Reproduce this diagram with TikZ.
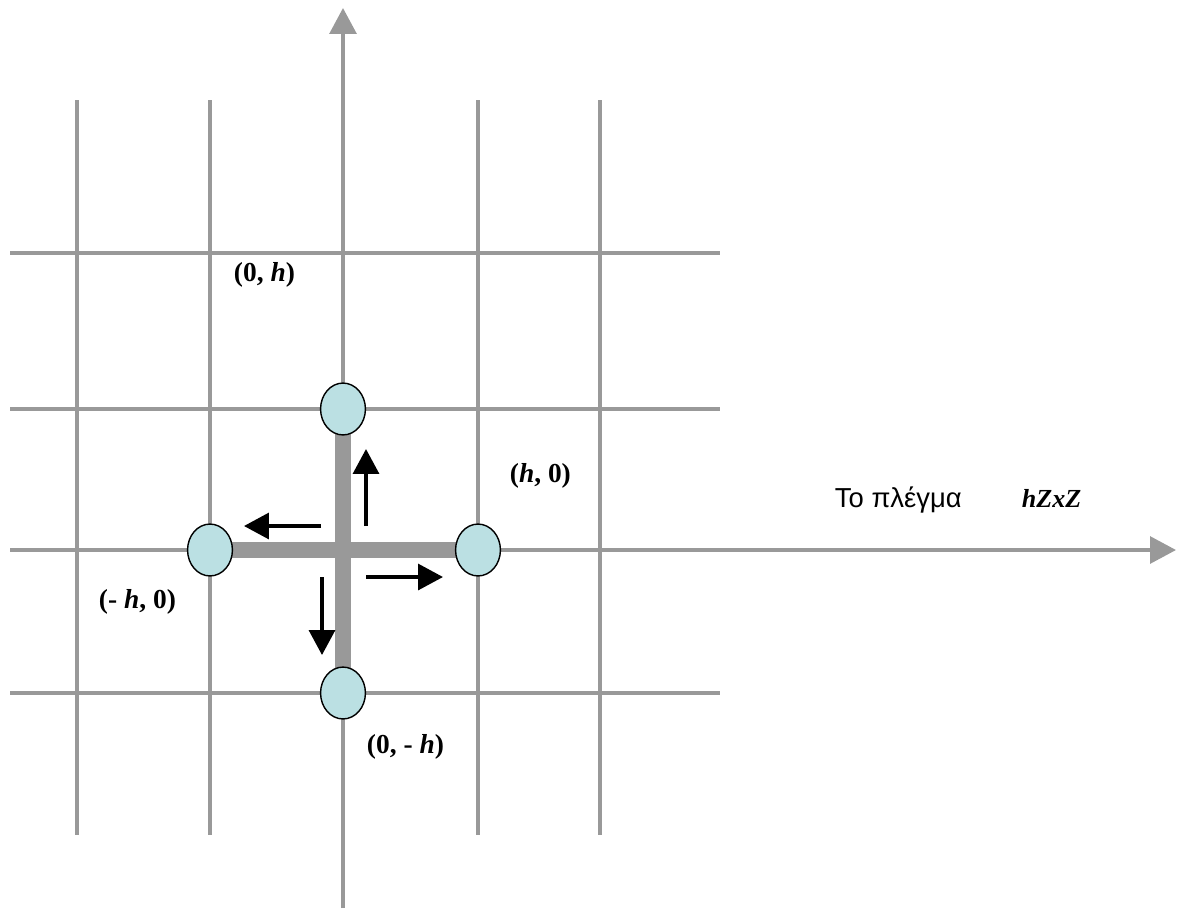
\documentclass[tikz,border=0pt]{standalone}
\usepackage{fontspec}
\setmainfont{Liberation Serif}
\newfontfamily\greekfont{Liberation Sans}
\usetikzlibrary{arrows.meta,shapes.geometric,backgrounds}
\definecolor{gridgray}{RGB}{153,153,153}
\definecolor{sitecyan}{RGB}{187,224,227}

\begin{document}
\begin{tikzpicture}[x=0.025cm,y=-0.025cm,
  grid line/.style={draw=gridgray,line width=2.6pt},
  axis line/.style={grid line,-{Triangle[length=18.4pt,width=19pt]}},
  bar line/.style={draw=gridgray,line width=11.3pt},
  move arrow/.style={draw=black,line width=2.4pt,-{Triangle[length=17.7pt,width=18.4pt]}},
  main node/.style={ellipse,draw,line width=1pt,fill=sitecyan,minimum width=31.9pt,minimum height=36.9pt,inner sep=0pt},
  coord label/.style={anchor=base west,font=\fontsize{19.5}{22}\selectfont\bfseries}]
  \useasboundingbox (0,0) rectangle (1179,910);

  % grid
  \foreach \x in {77,210,478,600} \draw[grid line] (\x,100) -- (\x,835);
  \foreach \y in {253,409,693} \draw[grid line] (10,\y) -- (720,\y);

  % axes
  \coordinate (o) at (343,550);
  \coordinate (xs) at (10,550);
  \coordinate (xe) at (1176,550);
  \coordinate (ys) at (343,908);
  \coordinate (ye) at (343,8);
  \draw[axis line] (xs) -- (xe);
  \draw[axis line] (ys) -- (ye);

  \node[main node] (1) at (343,409) {};
  \node[main node] (2) at (210,550) {};
  \node[main node] (3) at (478,550) {};
  \node[main node] (4) at (343,693) {};

  \begin{scope}[on background layer]
    \draw[bar line] (1.center) -- (4.center);
    \draw[bar line] (2.center) -- (3.center);
  \end{scope}

  % moves
  \draw[move arrow] ([shift={(23,-24)}]o) -- ++(0,-77);
  \draw[move arrow] ([shift={(-22,-24)}]o) -- ++(-77,0);
  \draw[move arrow] ([shift={(23,27)}]o) -- ++(77,0);
  \draw[move arrow] ([shift={(-21,27)}]o) -- ++(0,78);

  \node[coord label] (5) at (229,281) {(0, \textit{h})};
  \node[coord label] (6) at (505,482) {(\textit{h}, 0)};
  \node[coord label] (7) at (94,608) {(- \textit{h}, 0)};
  \node[coord label] (8) at (362,753) {(0, - \textit{h})};
  \node[anchor=base west,font=\greekfont\fontsize{19.5}{22}\selectfont] (9) at (830,507) {Το πλέγμα};
  \node[anchor=base west,font=\fontsize{18.5}{22}\selectfont\bfseries\itshape] (10) at (1017,507) {hZxZ};
\end{tikzpicture}
\end{document}
